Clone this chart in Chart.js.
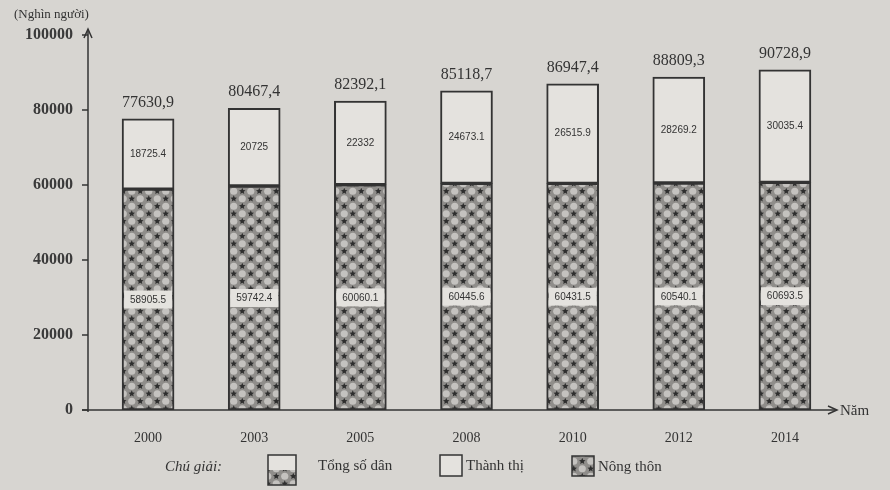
<!DOCTYPE html>
<html><head><meta charset="utf-8">
<script src="https://cdn.jsdelivr.net/npm/chart.js@4.4.0/dist/chart.umd.min.js"></script>
<style>html,body{margin:0;padding:0;background:#d7d5d1;}#wrap{width:890px;height:490px;position:relative;}</style>
</head><body><div id="wrap"><canvas id="c"></canvas></div>
<script>
// ---- data ----
const years = ['2000', '2003', '2005', '2008', '2010', '2012', '2014'];
const urban = [18725.4, 20725, 22332, 24673.1, 26515.9, 28269.2, 30035.4];
const rural = [58905.5, 59742.4, 60060.1, 60445.6, 60431.5, 60540.1, 60693.5];
const totals = [77630.9, 80467.4, 82392.1, 85118.7, 86947.4, 88809.3, 90728.9];
const yTicks = [0, 20000, 40000, 60000, 80000, 100000];
const unitLabel = '(Nghìn người)';
const xAxisName = 'Năm';
const legendTitle = 'Chú giải:';
const seriesNames = ['Tổng số dân', 'Thành thị', 'Nông thôn'];

const LIGHT = '#e4e2de';
const INK = '#333333';
const SERIF = '"Liberation Serif", "DejaVu Serif", serif';
const SANS = '"Liberation Sans", "DejaVu Sans", sans-serif';

function makePattern() {
  const c = document.createElement('canvas');
  c.width = 17; c.height = 15;
  const g = c.getContext('2d');
  g.fillStyle = '#8f8d8a'; g.fillRect(0, 0, 17, 15);
  g.fillStyle = '#c4c2bf';
  [[4.25, 3.75], [12.75, 11.25]].forEach(([x, y]) => { g.beginPath(); g.arc(x, y, 3.6, 0, Math.PI * 2); g.fill(); });
  g.fillStyle = '#2e2e2e';
  [[12.75, 3.75], [4.25, 11.25]].forEach(([x, y]) => {
    g.beginPath();
    for (let k = 0; k < 10; k++) {
      const r = k % 2 ? 1.6 : 3.4, a = k * Math.PI / 5 - Math.PI / 2;
      g.lineTo(x + r * Math.cos(a), y + r * Math.sin(a));
    }
    g.closePath(); g.fill();
  });
  return g.createPattern(c, 'repeat');
}
const pattern = makePattern();

const overlay = {
  id: 'overlay',
  afterDatasetsDraw(chart) {
    const ctx = chart.ctx;
    const m0 = chart.getDatasetMeta(0), m1 = chart.getDatasetMeta(1);
    ctx.save();
    years.forEach((_, i) => {
      const r = m0.data[i], u = m1.data[i];
      const cy = (r.y + r.base) / 2;
      ctx.fillStyle = LIGHT;
      ctx.fillRect(r.x - 24, cy - 9, 48, 18);
      ctx.fillStyle = INK;
      ctx.font = '10px ' + SANS;
      ctx.textAlign = 'center'; ctx.textBaseline = 'middle';
      ctx.fillText(String(rural[i]), r.x, cy + 0.5);
      const uy = (u.y + u.base) / 2;
      ctx.fillText(String(urban[i]), u.x, uy);
      ctx.font = '16px ' + SERIF;
      ctx.fillText(totals[i].toFixed(1).replace('.', ','), u.x, u.y - 16);
    });
    ctx.restore();
  },
  afterDraw(chart) {
    const ctx = chart.ctx;
    const ys = chart.scales.y;
    const ax = 88;
    const y0 = ys.getPixelForValue(0);
    ctx.save();
    ctx.strokeStyle = INK; ctx.fillStyle = INK; ctx.lineWidth = 1.5;
    ctx.beginPath(); ctx.moveTo(ax, y0 + 2); ctx.lineTo(ax, 30); ctx.stroke();
    ctx.beginPath(); ctx.moveTo(ax - 4, 38); ctx.lineTo(ax, 29); ctx.lineTo(ax + 4, 38); ctx.stroke();
    yTicks.forEach(t => {
      const py = ys.getPixelForValue(t);
      ctx.beginPath(); ctx.moveTo(ax - 6, py); ctx.lineTo(ax, py); ctx.stroke();
    });
    ctx.beginPath(); ctx.moveTo(ax - 6, y0); ctx.lineTo(836, y0); ctx.stroke();
    ctx.beginPath(); ctx.moveTo(828, y0 - 4); ctx.lineTo(837, y0); ctx.lineTo(828, y0 + 4); ctx.stroke();
    ctx.font = '15px ' + SERIF;
    ctx.textAlign = 'left'; ctx.textBaseline = 'middle';
    ctx.fillText(xAxisName, 840, y0 + 1);
    ctx.font = '13px ' + SERIF;
    ctx.fillText(unitLabel, 14, 15);
    const ly = 467;
    ctx.font = 'italic 15px ' + SERIF;
    ctx.fillText(legendTitle, 165, ly);
    ctx.font = '15px ' + SERIF;
    ctx.fillStyle = LIGHT; ctx.fillRect(268, 455, 28, 15);
    ctx.fillStyle = pattern; ctx.fillRect(268, 470, 28, 15);
    ctx.strokeRect(268, 455, 28, 30);
    ctx.fillStyle = INK; ctx.fillText(seriesNames[0], 318, ly - 1);
    ctx.fillStyle = LIGHT; ctx.fillRect(440, 455, 22, 21); ctx.strokeRect(440, 455, 22, 21);
    ctx.fillStyle = INK; ctx.fillText(seriesNames[1], 466, ly - 1);
    ctx.fillStyle = pattern; ctx.fillRect(572, 456, 22, 20); ctx.strokeRect(572, 456, 22, 20);
    ctx.fillStyle = INK; ctx.fillText(seriesNames[2], 598, ly);
    ctx.restore();
  }
};

new Chart(document.getElementById('c'), {
  type: 'bar',
  data: {
    labels: years,
    datasets: [
      { label: seriesNames[2], data: rural, backgroundColor: pattern, borderColor: INK, borderWidth: 2, borderSkipped: false, barThickness: 52 },
      { label: seriesNames[1], data: urban, backgroundColor: LIGHT, borderColor: INK, borderWidth: 2, borderSkipped: false, barThickness: 52 }
    ]
  },
  options: {
    responsive: true,
    maintainAspectRatio: false,
    animation: false,
    layout: { padding: { top: 35, right: 52, left: 0, bottom: 0 } },
    plugins: { legend: { display: false }, tooltip: { enabled: false } },
    scales: {
      x: {
        stacked: true,
        grid: { display: false, drawTicks: false },
        border: { display: false },
        ticks: { color: INK, font: { family: SERIF, size: 14 }, padding: 20, maxRotation: 0 },
        afterFit(s) { s.height = 80; }
      },
      y: {
        stacked: true,
        min: 0, max: 100000,
        afterBuildTicks(s) { s.ticks = yTicks.map(v => ({ value: v })); },
        grid: { display: false, drawTicks: false },
        border: { display: false },
        ticks: { color: '#3a3a3a', font: { family: SERIF, size: 16, weight: 'bold' }, padding: 22, callback: v => String(v) },
        afterFit(s) { s.width = 95; }
      }
    }
  },
  plugins: [overlay]
});
</script>
</body></html>
